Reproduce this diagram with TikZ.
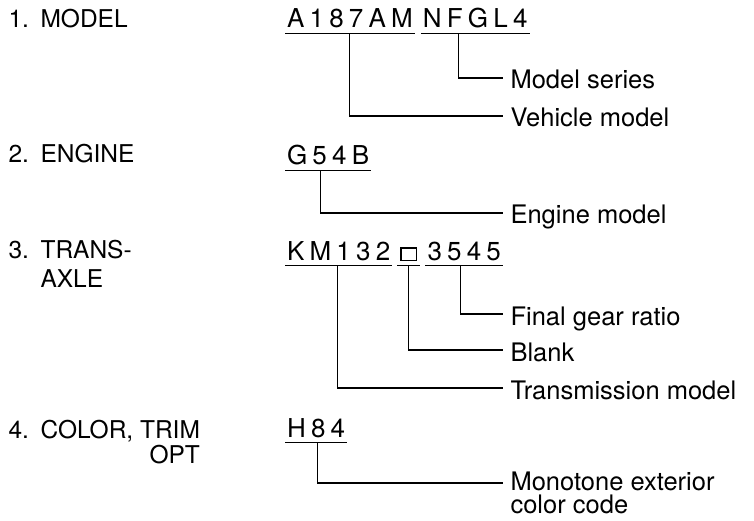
\documentclass[tikz,border=0pt]{standalone}
\usepackage{fontspec}
\setmainfont{TeX Gyre Heros}
\newfontfamily\codefont[LetterSpace=20]{TeX Gyre Heros}
\usetikzlibrary{positioning,calc}
\newcommand{\blanksq}{{\setlength{\fboxsep}{0pt}\setlength{\fboxrule}{1.3pt}\fbox{\rule{0pt}{11.5pt}\hspace{14.5pt}}}}

\begin{document}
\begin{tikzpicture}[x=1pt, y=1pt, line width=1.1pt,
    item/.style={anchor=base west, inner sep=0pt, font=\fontsize{24.5}{28}\selectfont},
    code/.style={inner xsep=1.5pt, inner ysep=5pt, text height=19pt, text depth=0pt, font=\codefont\fontsize{26}{30}\selectfont},
    lbl/.style={anchor=base west, inner sep=0pt, align=left, font=\fontsize{25.5}{23}\selectfont}]
    \useasboundingbox (0,0) rectangle (754,520);
    % Items
    \node[item] (mod) at (8,492) {\makebox[32pt][l]{1.}MODEL};
    \node[item] (eng) at (8,357) {\makebox[32pt][l]{2.}ENGINE};
    \node[item, align=left] (trn) at (8,233) {\makebox[32pt][l]{3.}TRANS-\\[1pt]\hspace*{32pt}AXLE};
    \node[item, align=right] (col) at (8,57) {\makebox[32pt][l]{4.}COLOR, TRIM\\[-3pt]OPT};
    % Codes
    \node[code, anchor=base west] (vmod) at (285,492) {A187AM};
    \node[code, right=6pt of vmod] (vser) {NFGL4};
    \node[code, anchor=base west] (gmod) at (285,355) {G54B};
    \node[code, anchor=base west] (tmod) at (285,260) {KM132};
    \node[code, inner xsep=2.5pt, right=5pt of tmod] (blk) {\blanksq};
    \node[code, right=5pt of blk] (fgr) {3545};
    \node[code, anchor=base west] (ccode) at (285,83) {H84};
    \foreach \s in {vmod,vser,gmod,tmod,blk,fgr,ccode}
        \draw (\s.south west) -- (\s.south east);
    % Line ends
    \coordinate (ms-end) at (503,442);
    \coordinate (vm-end) at (503,404);
    \coordinate (em-end) at (503,307);
    \coordinate (fg-end) at (503,206);
    \coordinate (bl-end) at (503,170);
    \coordinate (tm-end) at (503,132);
    \coordinate (mc-end) at (503,37);
    % Labels
    \node[lbl] (ms) at ([shift={(7,-11)}]ms-end) {Model series};
    \node[lbl] (vm) at ([shift={(7,-11)}]vm-end) {Vehicle model};
    \node[lbl] (em) at ([shift={(7,-11)}]em-end) {Engine model};
    \node[lbl] (fg) at ([shift={(7,-11)}]fg-end) {Final gear ratio};
    \node[lbl] (bl) at ([shift={(7,-11)}]bl-end) {Blank};
    \node[lbl] (tm) at ([shift={(7,-11)}]tm-end) {Transmission model};
    \node[lbl] (mc) at ([shift={(7,-30)}]mc-end) {Monotone exterior\\color code};
    % Leaders
    \draw ($(vser.south west)!0.35!(vser.south east)$) |- (ms-end);
    \draw ($(vmod.south west)!0.5!(vmod.south east)$) |- (vm-end);
    \draw ($(gmod.south west)!0.41!(gmod.south east)$) |- (em-end);
    \draw ($(fgr.south west)!0.45!(fgr.south east)$) |- (fg-end);
    \draw (blk.south) |- (bl-end);
    \draw ($(tmod.south west)!0.49!(tmod.south east)$) |- (tm-end);
    \draw ($(ccode.south west)!0.52!(ccode.south east)$) |- (mc-end);
\end{tikzpicture}
\end{document}
